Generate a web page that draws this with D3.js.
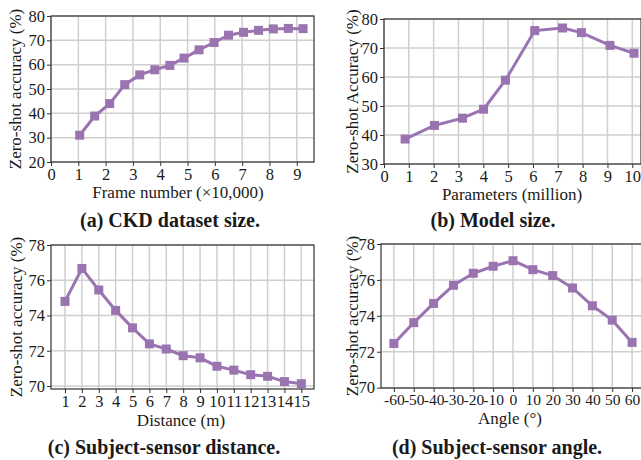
<!DOCTYPE html>
<html>
<head>
<meta charset="utf-8">
<script src="https://cdn.jsdelivr.net/npm/d3@7"></script>
<style>
  body { margin: 0; background: #fff; }
  svg text { font-family: "Liberation Serif", "Times New Roman", serif; fill: #1a1a1a; }
  .cap { font-weight: bold; font-size: 20px; }
</style>
</head>
<body>
<svg id="chart" width="641" height="460"></svg>
<script>
'use strict';

/* (a) CKD dataset size */
var frameX = [1.05, 1.6, 2.15, 2.7, 3.25, 3.8, 4.35, 4.87, 5.42, 5.97, 6.5, 7.05, 7.6, 8.14, 8.69, 9.23];
var frameAcc = [31.0, 38.9, 44.0, 51.8, 55.8, 57.9, 59.7, 62.7, 66.1, 69.1, 72.1, 73.3, 74.1, 74.7, 74.9, 74.8];

/* (b) model size */
var paramX = [0.85, 2.03, 3.16, 4.01, 4.89, 6.07, 7.19, 7.95, 9.1, 10.07];
var paramAcc = [38.6, 43.3, 45.8, 48.9, 58.9, 76.0, 76.9, 75.3, 70.9, 68.2];

/* (c) subject-sensor distance */
var distX = [1, 2, 3, 4, 5, 6, 7, 8, 9, 10, 11, 12, 13, 14, 15];
var distAcc = [74.8, 76.67, 75.45, 74.29, 73.3, 72.39, 72.1, 71.72, 71.6, 71.12, 70.9, 70.64, 70.55, 70.25, 70.13];

/* (d) subject-sensor angle */
var angleX = [-60, -50, -40, -30, -20, -10, 0, 10, 20, 30, 40, 50, 60];
var angleAcc = [72.46, 73.62, 74.69, 75.7, 76.37, 76.76, 77.07, 76.57, 76.24, 75.55, 74.56, 73.76, 72.52];

var ticksA = { x: d3.range(0, 10), y: [20, 30, 40, 50, 60, 70, 80] };
var ticksB = { x: d3.range(0, 11), y: [30, 40, 50, 60, 70, 80] };
var ticksC = { x: d3.range(1, 16), y: [70, 72, 74, 76, 78] };
var ticksD = { x: angleX, y: [70, 72, 74, 76, 78] };

var color = '#9a74b1';
var svg = d3.select('#chart');

function panel(p) {
  var x = d3.scaleLinear().domain(p.xDom).range([p.left, p.right]);
  var y = d3.scaleLinear().domain(p.yDom).range([p.bottom, p.top]);
  var g = svg.append('g');

  /* grid */
  g.selectAll('.gx').data(p.ticks.x).enter().append('line')
    .attr('x1', function(d) { return x(d); }).attr('x2', function(d) { return x(d); })
    .attr('y1', p.top).attr('y2', p.bottom)
    .style('stroke', '#cfcfcf').style('stroke-width', 1.5);
  g.selectAll('.gy').data(p.ticks.y).enter().append('line')
    .attr('y1', function(d) { return y(d); }).attr('y2', function(d) { return y(d); })
    .attr('x1', p.left).attr('x2', p.right)
    .style('stroke', '#cfcfcf').style('stroke-width', 1.5);

  /* frame */
  g.append('rect')
    .attr('x', p.left).attr('y', p.top)
    .attr('width', p.right - p.left).attr('height', p.bottom - p.top)
    .style('fill', 'none').style('stroke', '#333').style('stroke-width', 1.2);

  /* axes, plain hyphen for negatives like the original */
  var fmt = function(d) { return String(d); };
  var xa = g.append('g').attr('transform', 'translate(0,' + p.bottom + ')')
    .call(d3.axisBottom(x).tickValues(p.ticks.x).tickSize(4).tickPadding(2).tickFormat(fmt));
  var ya = g.append('g').attr('transform', 'translate(' + p.left + ',0)')
    .call(d3.axisLeft(y).tickValues(p.ticks.y).tickSize(4).tickPadding(2).tickFormat(fmt));
  [xa, ya].forEach(function(a) {
    a.select('.domain').remove();
    a.selectAll('line').style('stroke', '#333');
    a.selectAll('text').style('font-size', '16.5px').style('font-family', '"Liberation Serif", serif').style('fill', '#1a1a1a');
  });
  if (p.xTickSize) {
    xa.selectAll('text').style('font-size', p.xTickSize);
  }

  /* line + markers */
  var pts = p.xs.map(function(d, i) { return [d, p.ys[i]]; });
  var line = d3.line().x(function(d) { return x(d[0]); }).y(function(d) { return y(d[1]); });
  g.append('path').datum(pts).attr('d', line)
    .style('fill', 'none').style('stroke', color).style('stroke-width', 3);
  g.selectAll('.m').data(pts).enter().append('rect')
    .attr('x', function(d) { return x(d[0]) - 4.5; })
    .attr('y', function(d) { return y(d[1]) - 4.5; })
    .attr('width', 9).attr('height', 9)
    .style('fill', color);

  /* labels */
  svg.append('text').attr('x', p.xLabX).attr('y', p.xLabY)
    .attr('text-anchor', 'middle').style('font-size', '17px').text(p.xLabel);
  svg.append('text')
    .attr('transform', 'translate(' + p.yLabX + ',' + (p.top + p.bottom) / 2 + ') rotate(-90)')
    .attr('text-anchor', 'middle').attr('dy', '0.35em').style('font-size', '17px').text(p.yLabel);
  svg.append('text').attr('class', 'cap').attr('x', p.capX).attr('y', p.capY)
    .attr('text-anchor', 'middle').text(p.caption);
}

panel({ xs: frameX, ys: frameAcc, ticks: ticksA, xDom: [0, 9.63], yDom: [20, 80],
  left: 51, right: 314, top: 16, bottom: 162, yLabX: 15, xLabX: 178, xLabY: 198,
  xLabel: 'Frame number (\u00d710,000)', yLabel: 'Zero-shot accuracy (%)',
  caption: '(a) CKD dataset size.', capX: 170, capY: 227 });

panel({ xs: paramX, ys: paramAcc, ticks: ticksB, xDom: [0, 10.35], yDom: [30, 80],
  left: 384, right: 641, top: 19, bottom: 164, yLabX: 352, xLabX: 512, xLabY: 200,
  xLabel: 'Parameters (million)', yLabel: 'Zero-shot Accuracy (%)',
  caption: '(b) Model size.', capX: 493, capY: 227 });

panel({ xs: distX, ys: distAcc, ticks: ticksC, xDom: [0.17, 15.75], yDom: [69.83, 78],
  left: 51, right: 314, top: 245, bottom: 389, yLabX: 16, xLabX: 181, xLabY: 426,
  xLabel: 'Distance (m)', yLabel: 'Zero-shot accuracy (%)',
  caption: '(c) Subject-sensor distance.', capX: 164, capY: 454 });

panel({ xs: angleX, ys: angleAcc, ticks: ticksD, xDom: [-66.5, 66], yDom: [69.98, 78],
  left: 381, right: 644, top: 244, bottom: 388, yLabX: 352, xLabX: 510, xLabY: 424,
  xTickSize: '15.5px',
  xLabel: 'Angle (\u00b0)', yLabel: 'Zero-shot accuracy (%)',
  caption: '(d) Subject-sensor angle.', capX: 497, capY: 454 });
</script>
</body>
</html>
